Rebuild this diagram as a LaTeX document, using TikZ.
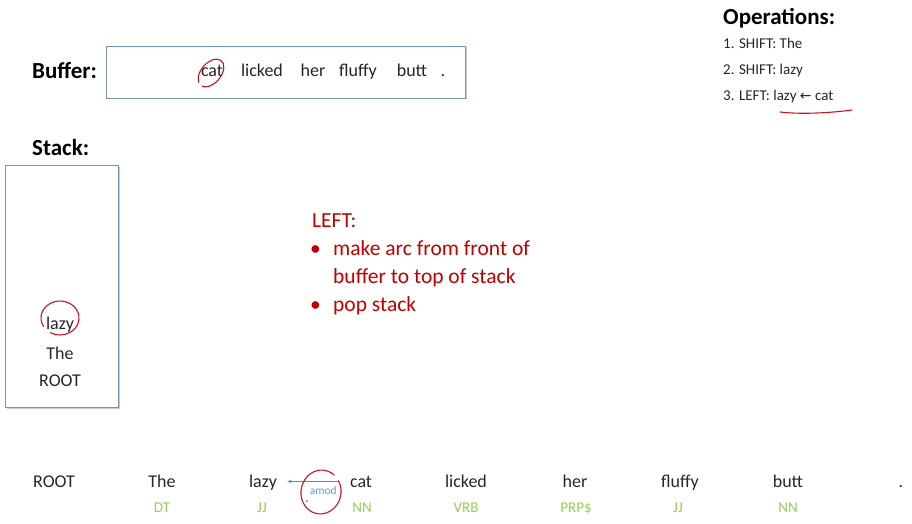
\documentclass[tikz,border=0pt]{standalone}
\usepackage{fontspec}
\setmainfont{Carlito}
\newfontfamily\arrowfont{DejaVu Sans}
\usepackage{tikz}
\usetikzlibrary{arrows.meta,shadows}
\definecolor{boxblue}{RGB}{115,145,185}
\definecolor{darkred}{RGB}{192,0,0}
\definecolor{penred}{RGB}{200,20,30}
\definecolor{taggreen}{RGB}{146,208,80}
\definecolor{arcblue}{RGB}{70,140,210}
\definecolor{ink}{RGB}{38,38,38}

\begin{document}
\begin{tikzpicture}[x=1pt, y=-1pt,
    word/.style = {anchor=base, font=\fontsize{18}{22}\selectfont, text=ink, inner sep=1pt},
    tag/.style = {anchor=base, font=\fontsize{15}{17}\selectfont, text=taggreen, inner sep=1pt},
    head/.style = {anchor=base west, font=\fontsize{23}{27}\selectfont\bfseries, inner sep=0pt},
    oper/.style = {anchor=base west, font=\fontsize{15}{18}\selectfont, text=ink, inner sep=0pt},
    rule/.style = {anchor=base west, font=\fontsize{21.5}{26}\selectfont, text=darkred, inner sep=0pt},
    panel/.style = {draw=boxblue, fill=white, line width=0.9pt, inner sep=0pt,
      drop shadow={shadow xshift=1.5pt, shadow yshift=-1.5pt, opacity=0.4}},
    pen/.style = {draw=penred, line width=1.1pt, line cap=round}]
  \useasboundingbox (0,0) rectangle (912,524);

  \node[head] (buflabel) at (32,79) {Buffer:};
  \node[panel, minimum width=359pt, minimum height=52pt] (buffer) at (285.5,72) {};
  \foreach \name/\w/\x in {cat/cat/212, licked/licked/262, her/her/313, fluffy/fluffy/358, butt/butt/412, dot/./443}
    \node[word] (b-\name) at (\x,77) {\w};

  \node[head] (stacklabel) at (32,155) {Stack:};
  \node[panel, minimum width=113pt, minimum height=242pt] (stack) at (61.5,286) {};
  \node[word] (s-lazy) at (60,329) {lazy};
  \node[word] (s-the) at (60,359) {The};
  \node[word] (s-root) at (60,386) {ROOT};

  \node[head] (oplabel) at (723,25) {Operations:};
  \node[oper] (op1) at (723,49) {1. SHIFT: The};
  \node[oper] (op2) at (723,75) {2. SHIFT: lazy};
  \node[oper] (op3) at (723,101) {3. LEFT: lazy {\arrowfont\fontsize{14}{18}\selectfont←} cat};

  \node[rule] (left) at (312,227) {LEFT:};
  \node[rule] (bul1) at (310,255) {\textbullet};
  \node[rule] (line1) at (333,255) {make arc from front of};
  \node[rule] (line2) at (333,283) {buffer to top of stack};
  \node[rule] (bul2) at (310,311) {\textbullet};
  \node[rule] (line3) at (333,311) {pop stack};

  \foreach \name/\w/\x in {root/ROOT/54, the/The/162, lazy/lazy/263, cat/cat/361, licked/licked/466, her/her/575, fluffy/fluffy/680, butt/butt/788, dot/./901}
    \node[word] (\name) at (\x,487) {\w};
  \foreach \name/\t/\x in {the/DT/162, lazy/JJ/262, cat/NN/362, licked/VRB/466, her/PRP\$/576, fluffy/JJ/678, butt/NN/788}
    \node[tag] (t-\name) at (\x,512) {\t};

  \draw[arcblue, line width=0.7pt, -{Latex[length=4pt,width=3.5pt]}, shorten <=10pt, shorten >=9pt]
    (cat.west) -- (lazy.east |- cat.west)
    node[pos=0.36, below=1pt, font=\fontsize{11.5}{13}\selectfont, text=arcblue!85] (amod) {amod};

  \draw[pen, rotate around={50:(211,73)}] (211,73) ++(200:16 and 10)
    arc[start angle=200, end angle=530, x radius=16, y radius=10];
  \draw[pen] (60,318) ++(150:19 and 17)
    arc[start angle=150, end angle=480, x radius=19, y radius=17];
  \draw[pen, rotate around={-10:(321,492)}] (321,492) ++(-40:20 and 22)
    arc[start angle=-40, end angle=300, x radius=20, y radius=22];
  \fill[penred] (307,501) circle (0.9);
  \draw[pen] (780,112) .. controls (800,114.5) and (830,113) .. (852,110);
\end{tikzpicture}
\end{document}
